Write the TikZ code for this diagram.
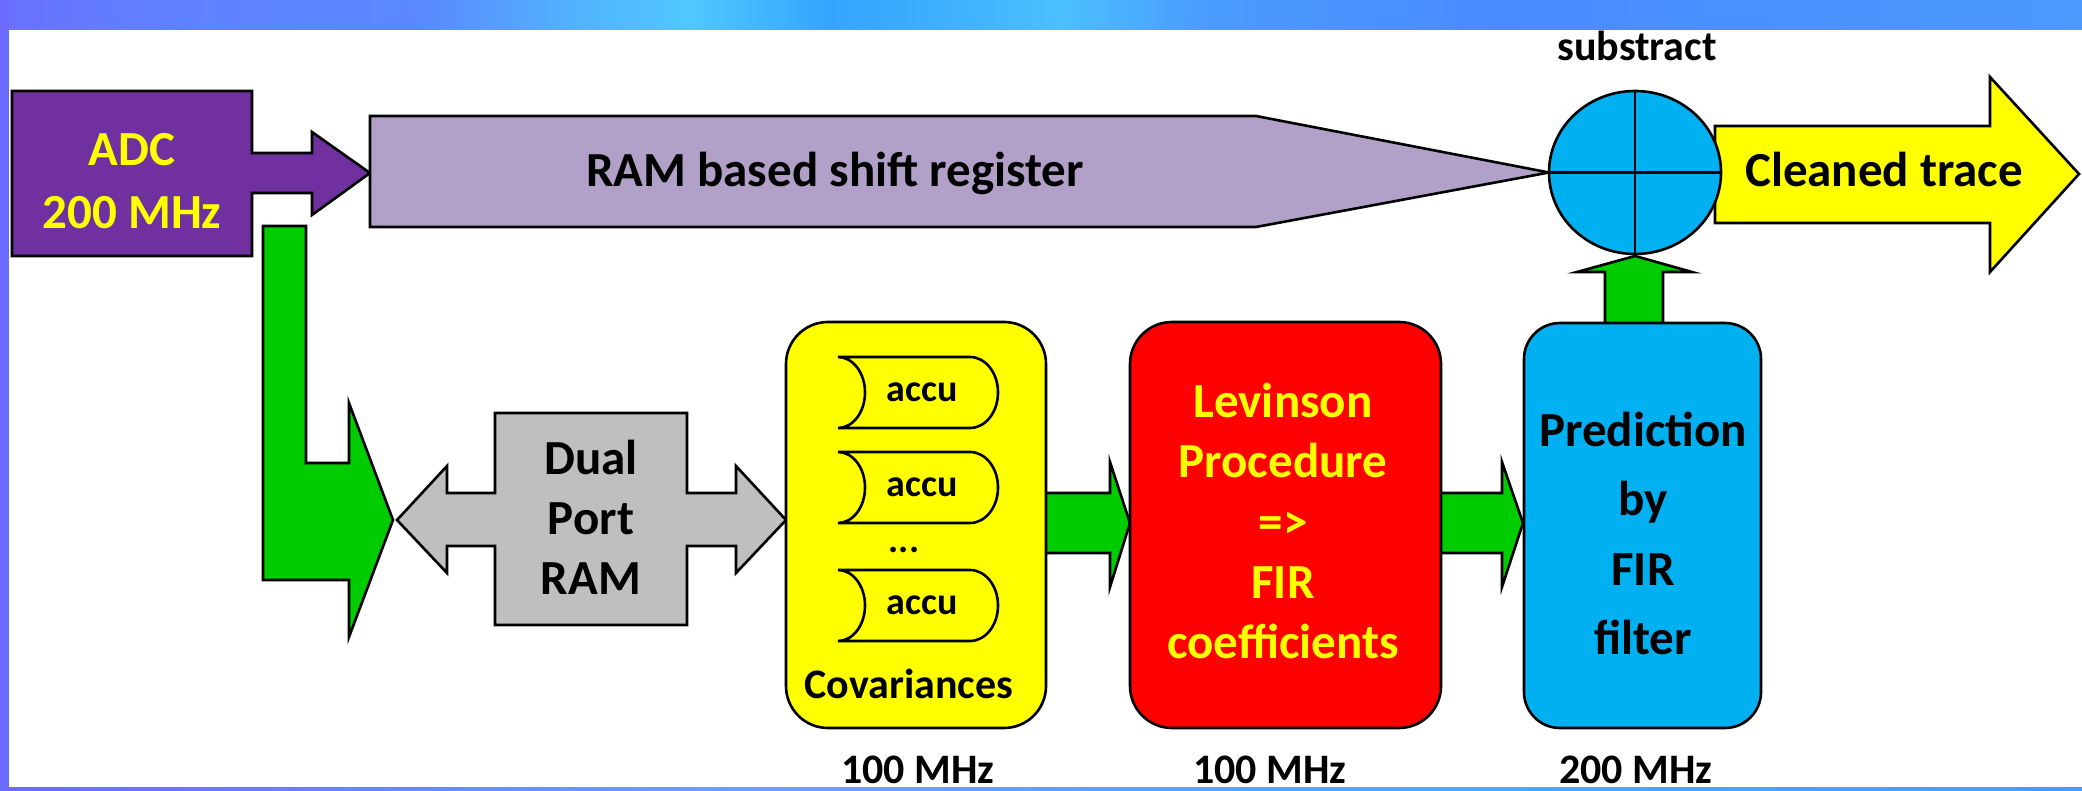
\documentclass[tikz,border=0pt]{standalone}
\usepackage{fontspec}
\setmainfont{Carlito}
\usetikzlibrary{shapes.geometric}
\definecolor{adcpurple}{HTML}{7030A0}
\definecolor{lavender}{HTML}{B1A0C7}
\definecolor{grn}{HTML}{00CC00}
\definecolor{gry}{HTML}{BFBFBF}
\definecolor{ylw}{HTML}{FFFF00}
\definecolor{rd}{HTML}{FF0000}
\definecolor{skyb}{HTML}{00B0F0}
\definecolor{t0}{HTML}{6B70FF}
\definecolor{t1}{HTML}{6080FF}
\definecolor{t2}{HTML}{5A88FF}
\definecolor{t3}{HTML}{52B0FF}
\definecolor{t4}{HTML}{50C8FF}
\definecolor{t5}{HTML}{34A4FF}
\definecolor{t6}{HTML}{40B0FF}
\definecolor{t7}{HTML}{4BC0FF}
\definecolor{t8}{HTML}{4A9CFF}
\definecolor{t9}{HTML}{4A8AFF}
\definecolor{t10}{HTML}{4A9AFF}
\definecolor{bgL}{HTML}{6A6AFF}
\definecolor{bgM}{HTML}{6F9AFF}
\definecolor{bgN}{HTML}{4AA8FF}
\newcommand\accushape[1]{%
  \path[outl,fill=ylw] (838,#1) -- (970,#1)
    arc[start angle=90,end angle=-90,x radius=14pt,y radius=17.75pt]
    -- (838,{#1+71})
    arc[start angle=-90,end angle=90,x radius=13.5pt,y radius=17.75pt]
    -- cycle;}
\newcommand\bandseg[4]{\shade[left color=#3,right color=#4] (#1,0) rectangle (#2,30);}
\begin{document}
\begin{tikzpicture}[x=0.5pt,y=-0.5pt,
  outl/.style={draw=black,line width=1.3pt,line join=miter},
  bigf/.style={font=\bfseries\fontsize{24.5}{#1}\selectfont,inner sep=0pt,align=center},
  smallf/.style={font=\bfseries\fontsize{21}{25}\selectfont,inner sep=0pt},
  accuf/.style={font=\bfseries\fontsize{19}{23}\selectfont,inner sep=0pt},
  rbox/.style={outl,rectangle,rounded corners=21pt,inner sep=0pt}]
\useasboundingbox (0,0) rectangle (2082,791);
\fill[white] (0,0) rectangle (2082,791);
% frame
\bandseg{0}{151}{t0}{t1}
\bandseg{150}{421}{t1}{t2}
\bandseg{420}{561}{t2}{t3}
\bandseg{560}{691}{t3}{t4}
\bandseg{690}{831}{t4}{t5}
\bandseg{830}{951}{t5}{t6}
\bandseg{950}{1061}{t6}{t7}
\bandseg{1060}{1201}{t7}{t8}
\bandseg{1200}{1501}{t8}{t9}
\bandseg{1500}{2082}{t9}{t10}
\fill[bgL] (0,0) rectangle (9,791);
\shade[left color=bgL,right color=bgM] (0,787) rectangle (701,791);
\shade[left color=bgM,right color=bgN] (700,787) rectangle (1501,791);
\shade[left color=bgN,right color=t10] (1500,787) rectangle (2082,791);
% green L arrow from ADC to dual port RAM
\path[outl,fill=grn] (263,226) -- (306,226) -- (306,463) -- (349,463) -- (349,403)
  -- (393,520) -- (349,637) -- (349,580) -- (263,580) -- cycle;
% dual port RAM double arrow
\path[outl,fill=gry] (397,520) -- (447,466) -- (447,493) -- (495,493) -- (495,413)
  -- (687,413) -- (687,493) -- (736,493) -- (736,466) -- (786,520) -- (736,573)
  -- (736,546) -- (687,546) -- (687,625) -- (495,625) -- (495,546) -- (447,546)
  -- (447,573) -- cycle;
\node[bigf=30pt] (dpram) at (591,517) {Dual\\Port\\RAM};
% ADC box with arrow
\path[outl,fill=adcpurple] (12,91) -- (252,91) -- (252,153) -- (312,153) -- (312,132)
  -- (370,173) -- (312,215) -- (312,193) -- (252,193) -- (252,256) -- (12,256) -- cycle;
\node[bigf=31.5pt,text=ylw] (adc) at (132,181.5) {ADC\\200 MHz};
% shift register
\path[outl,fill=lavender] (370,116) -- (1256,116) -- (1549,172.5) -- (1256,227)
  -- (370,227) -- cycle;
\node[bigf=30pt,anchor=base] (shreg) at (835,187) {RAM based shift register};
% cleaned trace arrow
\path[outl,fill=ylw] (1715,126) -- (1990,126) -- (1990,77) -- (2079,174) -- (1990,272)
  -- (1990,223) -- (1715,223) -- cycle;
\node[bigf=30pt,anchor=base] (out) at (1884,187) {Cleaned trace};
% green arrows
\path[outl,fill=grn] (1605,330) -- (1605,272) -- (1577,272) -- (1635,256) -- (1692,272)
  -- (1663,272) -- (1663,330) -- cycle;
\path[outl,fill=grn] (1040,493) -- (1110,493) -- (1110,462) -- (1130,523) -- (1110,587)
  -- (1110,553) -- (1040,553) -- cycle;
\path[outl,fill=grn] (1435,493) -- (1502,493) -- (1502,462) -- (1523,523) -- (1502,587)
  -- (1502,553) -- (1435,553) -- cycle;
% boxes
\node[rbox,fill=ylw,minimum width=130pt,minimum height=203pt] (cov) at (916,525) {};
\node[rbox,fill=rd,minimum width=155.5pt,minimum height=203pt] (lev) at (1285.5,525) {};
\node[rbox,fill=skyb,rounded corners=18pt,minimum width=118.5pt,minimum height=202.5pt] (pred) at (1642.5,525.5) {};
% accumulators
\accushape{357}
\accushape{452}
\accushape{570}
\node[accuf] (a1) at (922,392.5) {accu};
\node[accuf] (a2) at (922,487.5) {accu};
\node[accuf] (a3) at (922,605.5) {accu};
\node[accuf,anchor=base] (dots) at (904,552) {...};
\node[smallf,anchor=base] (covl) at (909,698) {Covariances};
% texts in boxes
\node[bigf=30.1pt,text=ylw] (levt) at (1283,521) {Levinson\\Procedure\\=>\\FIR\\coefficients};
\node[bigf=34.7pt] (predt) at (1643,533.5) {Prediction\\by\\FIR\\filter};
% subtract
\node[outl,ellipse,fill=skyb,inner sep=0pt,minimum width=86pt,minimum height=81.5pt] (sub) at (1635,172.5) {};
\draw[line width=1.3pt] (sub.north) -- (sub.south);
\draw[line width=1.3pt] (sub.west) -- (sub.east);
\node[smallf,anchor=base] (subl) at (1637,61) {substract};
% clock labels
\node[smallf,anchor=base] (f1) at (918,783) {100 MHz};
\node[smallf,anchor=base] (f2) at (1270,783) {100 MHz};
\node[smallf,anchor=base] (f3) at (1636,783) {200 MHz};
\end{tikzpicture}
\end{document}
